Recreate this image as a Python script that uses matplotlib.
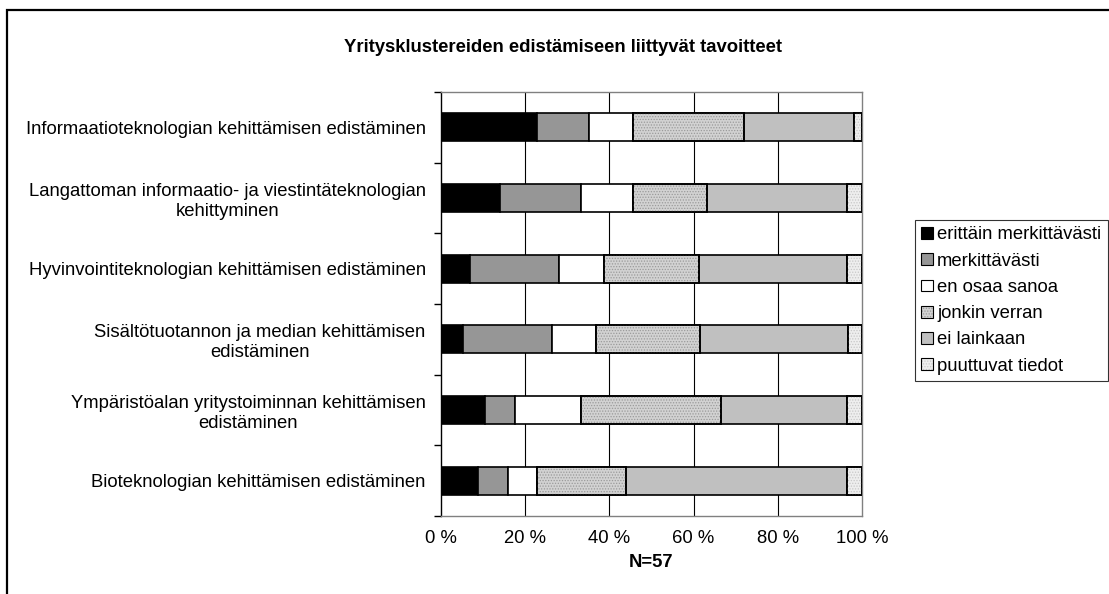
import matplotlib
matplotlib.use("Agg")
import matplotlib.pyplot as plt
from matplotlib.patches import Rectangle, Patch
from matplotlib.ticker import FixedLocator, FuncFormatter
import numpy as np

plt.rcParams['font.family'] = ['Liberation Sans', 'DejaVu Sans']
plt.rcParams['hatch.linewidth'] = 0.6

title = "Yritysklustereiden edistämiseen liittyvät tavoitteet"
xlabel = "N=57"
categories = [
    "Informaatioteknologian kehittämisen edistäminen",
    "Langattoman informaatio- ja viestintäteknologian\nkehittyminen",
    "Hyvinvointiteknologian kehittämisen edistäminen",
    "Sisältötuotannon ja median kehittämisen\nedistäminen",
    "Ympäristöalan yritystoiminnan kehittämisen\nedistäminen",
    "Bioteknologian kehittämisen edistäminen",
]
series_names = ["erittäin merkittävästi", "merkittävästi", "en osaa sanoa",
                "jonkin verran", "ei lainkaan", "puuttuvat tiedot"]
# percentages of respondents (N=57)
erittain = [22.8, 14.0, 7.0, 5.3, 10.5, 8.8]
merkittavasti = [12.3, 19.3, 21.1, 21.1, 7.0, 7.0]
en_osaa = [10.5, 12.3, 10.5, 10.5, 15.8, 7.0]
jonkin_verran = [26.3, 17.5, 22.8, 24.6, 33.3, 21.1]
ei_lainkaan = [26.3, 33.3, 35.1, 35.1, 29.8, 52.6]
puuttuvat = [1.8, 3.5, 3.5, 3.5, 3.5, 3.5]
xticks = [0, 20, 40, 60, 80, 100]

series = [erittain, merkittavasti, en_osaa, jonkin_verran, ei_lainkaan, puuttuvat]
faces = ["#000000", "#969696", "#ffffff", "#d2d2d2", "#c0c0c0", "#eeeeee"]
hatches = [None, None, None, "......", None, "......"]
hatch_cols = [None, None, None, "#9a9a9a", None, "#c8c8c8"]

fig = plt.figure(figsize=(11.09, 5.94), dpi=100)
ax = fig.add_axes([441/1109, 1-516/594, 421/1109, 424/594])

y = np.arange(len(categories))
left = np.zeros(len(categories))
handles = []
for vals, fc, h, hc, name in zip(series, faces, hatches, hatch_cols, series_names):
    vals = np.array(vals)
    ax.barh(y, vals, left=left, height=0.4, color=fc, edgecolor="black",
            linewidth=1.2, zorder=3)
    if h:
        ax.barh(y, vals, left=left, height=0.4, facecolor="none", edgecolor=hc,
                linewidth=0, hatch=h, zorder=3.5)
        ax.barh(y, vals, left=left, height=0.4, facecolor="none", edgecolor="black",
                linewidth=1.2, zorder=3.6)
        handles.append((Patch(facecolor=fc, edgecolor="none"),
                        Patch(facecolor="none", edgecolor=hc, hatch=h, linewidth=0),
                        Patch(facecolor="none", edgecolor="black", linewidth=0.8)))
    else:
        handles.append(Patch(facecolor=fc, edgecolor="black", linewidth=0.8))
    left = left + vals

ax.set_xlim(0, 100)
ax.set_ylim(len(categories) - 0.5, -0.5)
ax.set_xticks(xticks)
ax.xaxis.set_major_formatter(FuncFormatter(lambda v, p: f"{v:.0f} %"))
ax.tick_params(axis="x", length=0, pad=10, labelsize=13.3)
ax.set_yticks(y)
ax.set_yticklabels(categories, fontsize=13.3, multialignment="center")
ax.tick_params(axis="y", which="major", length=0, pad=11)
ax.yaxis.set_minor_locator(FixedLocator(np.arange(len(categories) + 1) - 0.5))
ax.tick_params(axis="y", which="minor", length=5, width=1, color="black", direction="out")

for gx in xticks[1:-1]:
    ax.axvline(gx, color="black", linewidth=0.8, zorder=1)

for s in ["top", "right", "bottom"]:
    ax.spines[s].set_color("#808080")
    ax.spines[s].set_linewidth(1.0)
ax.spines["left"].set_color("black")
ax.spines["left"].set_linewidth(1.0)

fig.text(563/1109, 1-47/594, title, ha="center", va="center",
         fontsize=13.3, fontweight="bold")
ax.text(0.5, -0.11, xlabel, transform=ax.transAxes, ha="center", va="center",
        fontsize=13.3, fontweight="bold")

leg = fig.legend(handles, series_names, loc="upper left",
                 bbox_to_anchor=(915/1109, 1-220/594), bbox_transform=fig.transFigure,
                 fontsize=13.3, frameon=True, fancybox=False, edgecolor="black",
                 handlelength=0.6, handleheight=0.6, handletextpad=0.25,
                 labelspacing=0.5, borderpad=0.35, borderaxespad=0)
leg.get_frame().set_linewidth(0.8)

fig.add_artist(Rectangle((7/1109, -0.1), 1.2, 1.1 - 10/594, transform=fig.transFigure,
                         fill=False, edgecolor="black", linewidth=1.6))

fig.savefig("out.png", dpi=100)
